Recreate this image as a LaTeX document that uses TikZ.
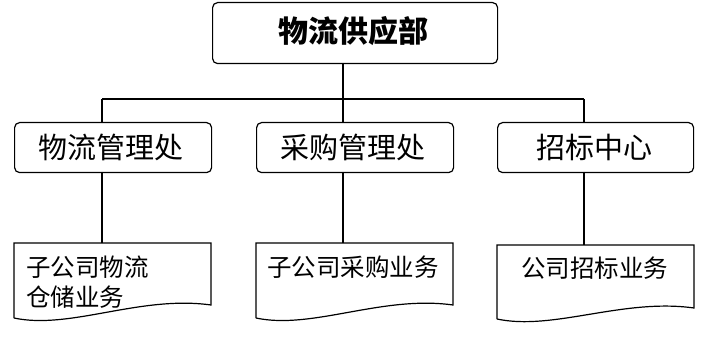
\documentclass[tikz,border=0pt]{standalone}
\usepackage{fontspec}
\newfontfamily\cjk{Noto Sans CJK SC}
\begin{document}
\begin{tikzpicture}[x=1pt,y=-1pt,
  box/.style={draw,rounded corners=5pt,line width=1.2pt,inner sep=0pt,anchor=north west},
  conn/.style={line width=1.1pt},
  docline/.style={line width=1.2pt},
  lvl/.style={font=\cjk\fontsize{29}{32}\selectfont},
  doct/.style={font=\cjk\fontsize{24.5}{30}\selectfont,align=left,anchor=west,inner sep=0pt}]
\useasboundingbox (0,0) rectangle (704,339);
% top
\node[box,minimum width=285pt,minimum height=61pt] (top) at (212,2) {};
\node[font=\cjk\bfseries\fontsize{30}{33}\selectfont] (toptext) at (353,31) {物流供应部};
% second level
\node[box,minimum width=197pt,minimum height=50pt] (b1) at (14,122) {};
\node[box,minimum width=197pt,minimum height=50pt] (b2) at (256,122) {};
\node[box,minimum width=196pt,minimum height=50pt] (b3) at (497,122) {};
\node[lvl] (t1) at (111,147) {物流管理处};
\node[lvl] (t2) at (353,147) {采购管理处};
\node[lvl] (t3) at (594,147) {招标中心};
% connectors
\coordinate (c0) at (343,63);
\coordinate (h0) at (343,99);
\coordinate (h1) at (102,99);
\coordinate (h2) at (343,99);
\coordinate (h3) at (584,99);
\draw[conn] (c0) -- (h0);
\draw[conn] (h1) -- (h3);
\coordinate (d1t) at (102,243);
\coordinate (d2t) at (343,243);
\coordinate (d3t) at (584,245);
\draw[conn] (h1) -- (102,122) coordinate (b1t);
\draw[conn] (h2) -- (343,122) coordinate (b2t);
\draw[conn] (h3) -- (584,122) coordinate (b3t);
\draw[conn] (102,172) coordinate (b1b) -- (d1t);
\draw[conn] (343,172) coordinate (b2b) -- (d2t);
\draw[conn] (584,172) coordinate (b3b) -- (d3t);
% documents
\draw[docline] (14,318) -- (14,243) -- (211,243) -- (211,305)
  .. controls (140,295) and (70,330) .. (14,318);
\draw[docline] (256,318) -- (256,243) -- (453,243) -- (453,305)
  .. controls (382,295) and (312,330) .. (256,318);
\draw[docline] (497,319) -- (497,245) -- (694,245) -- (694,308)
  .. controls (623,298) and (553,331) .. (497,319);
\node[doct] (d1a) at (26,267) {子公司物流};
\node[doct] (d1b) at (26,297) {仓储业务};
\node[doct] (d2) at (267,267) {子公司采购业务};
\node[doct] (d3) at (521,268) {公司招标业务};
\end{tikzpicture}
\end{document}
